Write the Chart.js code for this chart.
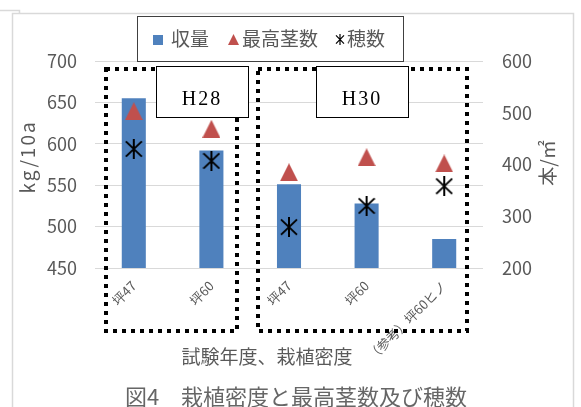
<!DOCTYPE html>
<html lang="ja">
<head>
<meta charset="utf-8">
<script src="https://cdn.jsdelivr.net/npm/chart.js@4.4.0/dist/chart.umd.min.js"></script>
<style>
  html, body { margin: 0; padding: 0; background: #fff; }
  #wrap { position: relative; width: 581px; height: 407px; overflow: hidden; }
</style>
</head>
<body>
<div id="wrap"><canvas id="chart" width="581" height="407"></canvas></div>
<script>
// 試験区と測定値
const categories = ['坪47', '坪60', '坪47', '坪60', '（参考）坪60ヒノ'];
const yieldValues = [655, 592, 551, 528, 485];   // 収量 kg/10a
const maxStems = [503, 469, 385, 414, 402];      // 最高茎数 本/㎡
const panicles = [430, 407, 279, 320, 358];      // 穂数 本/㎡
const leftTicks = [450, 500, 550, 600, 650, 700];
const rightTicks = [200, 300, 400, 500, 600];
const groupLabels = ['H28', 'H30'];

const fontJP = "'Noto Sans CJK JP', 'Noto Sans', sans-serif";
const textGray = '#595959';
const blue = '#4F81BD';
const red = '#C0504D';

// 年度ごとの点線枠とラベル枠 (px)
const groupBoxes = [
    { left: 106, right: 237, top: 69, bottom: 331 },
    { left: 258, right: 467, top: 69, bottom: 331 }
];
const labelBoxes = [
    { x: 156, y: 66, w: 92, h: 51 },
    { x: 316, y: 66, w: 92, h: 51 }
];

function triangleMarker(w, h, color) {
    const c = document.createElement('canvas');
    c.width = w; c.height = h;
    const g = c.getContext('2d');
    g.fillStyle = color;
    g.beginPath();
    g.moveTo(w / 2, 0);
    g.lineTo(w, h);
    g.lineTo(0, h);
    g.closePath();
    g.fill();
    return c;
}

function asteriskMarker(w, h, lw) {
    const c = document.createElement('canvas');
    c.width = w; c.height = h;
    const g = c.getContext('2d');
    g.strokeStyle = '#000';
    g.lineWidth = lw;
    const m = w / 2, n = h / 2, d = h * 0.38;
    g.beginPath();
    g.moveTo(m, 0); g.lineTo(m, h);
    g.moveTo(1, n - d); g.lineTo(w - 1, n + d);
    g.moveTo(w - 1, n - d); g.lineTo(1, n + d);
    g.stroke();
    return c;
}

const triMark = triangleMarker(18, 18, red);
const starMark = asteriskMarker(18, 20, 2);
const triLegend = triangleMarker(11, 11, red);
const starLegend = asteriskMarker(10, 11, 1.2);

const overlay = {
    id: 'overlay',
    afterDraw(chart) {
        const ctx = chart.ctx;
        ctx.save();

        // 外枠
        ctx.strokeStyle = '#D9D9D9';
        ctx.lineWidth = 1.5;
        ctx.beginPath();
        ctx.moveTo(12.5, 407); ctx.lineTo(12.5, 13.5); ctx.lineTo(573.5, 13.5); ctx.lineTo(573.5, 407);
        ctx.moveTo(0, 10.5); ctx.lineTo(19.5, 10.5); ctx.lineTo(19.5, 13);
        ctx.stroke();

        // 点線枠
        ctx.strokeStyle = '#000';
        ctx.lineWidth = 4;
        ctx.setLineDash([4, 5]);
        groupBoxes.forEach(b => {
            ctx.strokeRect(b.left, b.top, b.right - b.left, b.bottom - b.top);
        });
        ctx.setLineDash([]);

        // H28 / H30
        ctx.lineWidth = 1;
        ctx.font = "20px 'Liberation Serif', 'DejaVu Serif', serif";
        ctx.letterSpacing = '2px';
        ctx.textAlign = 'center';
        ctx.textBaseline = 'middle';
        labelBoxes.forEach((b, i) => {
            ctx.fillStyle = '#fff';
            ctx.fillRect(b.x, b.y, b.w, b.h);
            ctx.strokeStyle = '#000';
            ctx.strokeRect(b.x + 0.5, b.y + 0.5, b.w, b.h);
            ctx.fillStyle = '#000';
            ctx.fillText(groupLabels[i], b.x + b.w / 2, b.y + 34);
        });
        ctx.letterSpacing = '0px';

        // 凡例
        ctx.fillStyle = '#fff';
        ctx.fillRect(137, 16, 266, 45);
        ctx.strokeStyle = '#404040';
        ctx.strokeRect(137.5, 16.5, 266, 45);
        const ds = chart.data.datasets;
        ctx.font = '19px ' + fontJP;
        ctx.textAlign = 'left';
        ctx.fillStyle = blue;
        ctx.fillRect(153, 35, 10, 10);
        ctx.drawImage(triLegend, 228, 34);
        ctx.drawImage(starLegend, 335, 34);
        ctx.fillStyle = textGray;
        ctx.fillText(ds[0].label, 171, 39);
        ctx.fillText(ds[1].label, 242, 39);
        ctx.fillText(ds[2].label, 347, 39);

        // 軸タイトル
        ctx.textAlign = 'center';
        ctx.fillText('試験年度、栽植密度', 267, 357);
        ctx.save();
        ctx.translate(28, 157);
        ctx.rotate(-Math.PI / 2);
        ctx.letterSpacing = '2px';
        ctx.fillText('kg/10a', 0, 0);
        ctx.restore();
        ctx.save();
        ctx.translate(548, 163);
        ctx.rotate(-Math.PI / 2);
        ctx.fillText('本/㎡', 0, 0);
        ctx.restore();

        // 図題
        ctx.font = '22px ' + fontJP;
        ctx.fillStyle = '#666';
        ctx.fillText('図4　栽植密度と最高茎数及び穂数', 296, 397);

        ctx.restore();
    }
};

new Chart(document.getElementById('chart'), {
    type: 'bar',
    data: {
        labels: categories,
        datasets: [
            {
                label: '収量',
                data: yieldValues,
                yAxisID: 'y',
                backgroundColor: blue,
                barPercentage: 0.31,
                categoryPercentage: 1.0,
                order: 3
            },
            {
                type: 'line',
                label: '最高茎数',
                data: maxStems,
                yAxisID: 'y2',
                showLine: false,
                pointStyle: triMark,
                order: 2
            },
            {
                type: 'line',
                label: '穂数',
                data: panicles,
                yAxisID: 'y2',
                showLine: false,
                pointStyle: starMark,
                order: 1
            }
        ]
    },
    options: {
        responsive: false,
        animation: false,
        events: [],
        layout: { padding: { top: 61, left: 0, right: 0, bottom: 0 } },
        plugins: { legend: { display: false }, tooltip: { enabled: false } },
        scales: {
            x: {
                grid: { display: false, drawTicks: false },
                border: { display: false },
                ticks: {
                    autoSkip: false,
                    minRotation: 45,
                    maxRotation: 45,
                    padding: 10,
                    color: textGray,
                    font: { family: fontJP, size: 13 }
                },
                afterFit: s => { s.height = 139; }
            },
            y: {
                position: 'left',
                min: leftTicks[0],
                max: leftTicks[leftTicks.length - 1],
                ticks: {
                    stepSize: leftTicks[1] - leftTicks[0],
                    padding: 18,
                    color: textGray,
                    font: { family: fontJP, size: 18 }
                },
                grid: { color: '#D9D9D9', drawTicks: false },
                border: { display: false },
                afterFit: s => { s.width = 95; }
            },
            y2: {
                position: 'right',
                min: rightTicks[0],
                max: rightTicks[rightTicks.length - 1],
                ticks: {
                    stepSize: rightTicks[1] - rightTicks[0],
                    padding: 19,
                    color: textGray,
                    font: { family: fontJP, size: 18 }
                },
                grid: { display: false, drawTicks: false },
                border: { display: false },
                afterFit: s => { s.width = 98; }
            }
        }
    },
    plugins: [overlay]
});
</script>
</body>
</html>
